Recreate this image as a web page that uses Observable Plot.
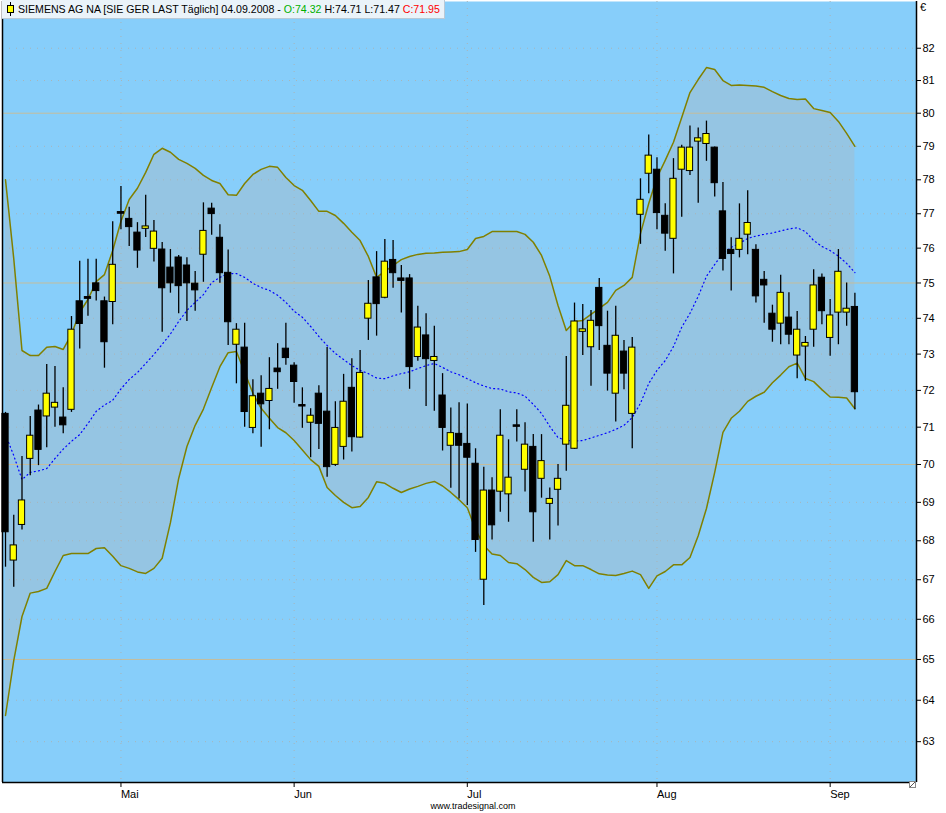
<!DOCTYPE html>
<html>
<head>
<meta charset="utf-8">
<script src="https://cdn.jsdelivr.net/npm/d3@7"></script>
<script src="https://cdn.jsdelivr.net/npm/@observablehq/plot@0.6"></script>
<style>
  html, body { margin: 0; padding: 0; background: #fff; }
  #wrap { position: relative; width: 946px; height: 813px; font-family: "Liberation Sans", Arial, sans-serif; color: #000; }
  #titel { position: absolute; left: 2px; top: 0; height: 18px; padding-right: 4px; background: #eaf3f9;
           border-bottom: 1px solid #b9c9d6; border-right: 1px solid #b9c9d6; font-size: 10.6px; line-height: 18px; white-space: nowrap; }
  #titel svg { vertical-align: -3px; margin: 0 3px 0 4px; }
  #euro { position: absolute; left: 920px; top: 1px; font-size: 11px; }
  #quelle { position: absolute; left: 0; width: 946px; top: 801px; text-align: center; font-size: 9px; }
  #ecke { position: absolute; left: 909px; top: 774px; }
</style>
</head>
<body>
<div id="wrap">
  <div id="chart"></div>
  <div id="titel"></div>
  <div id="euro">€</div>
  <div id="quelle">www.tradesignal.com</div>
  <div id="ecke"><svg width="7" height="7"><rect x="0.5" y="0.5" width="6" height="6" fill="#fff" stroke="#888"/><line x1="1" y1="6" x2="6" y2="1" stroke="#555"/></svg></div>
</div>
<script>
// Tageskerzen SIEMENS AG NA, 11.04.2008 - 04.09.2008 (Handelstage)
const eroeffnung = [71.36, 67.49, 68.41, 70.15, 71.45, 71.29, 71.53, 71.26, 71.47, 74.48,
  74.60, 74.99, 74.48, 74.46, 77.05, 76.85, 76.45, 76.56, 75.98, 75.96,
  75.44, 75.73, 75.50, 74.98, 75.81, 77.15, 76.30, 75.29, 73.26, 73.18,
  70.98, 71.91, 71.71, 72.60, 73.15, 72.68, 71.60, 71.12, 71.91, 71.42,
  69.99, 70.47, 72.07, 70.72, 73.99, 75.16, 74.58, 75.66, 75.13, 75.13,
  72.92, 73.52, 72.81, 71.86, 70.50, 70.82, 70.55, 70.02, 67.00, 69.31,
  69.28, 69.21, 71.05, 69.86, 70.47, 69.62, 68.96, 69.33, 70.53, 70.42,
  73.62, 73.19, 74.86, 73.23, 71.91, 73.07, 71.36, 76.97, 78.18, 78.30,
  76.94, 76.27, 78.30, 78.26, 79.14, 79.07, 78.96, 77.07, 75.95, 75.95,
  76.39, 75.95, 75.09, 74.13, 73.85, 74.02, 72.96, 73.21, 73.68, 75.15,
  73.45, 74.16, 74.16, 74.32];
const hoch = [71.40, 68.66, 70.21, 71.29, 71.60, 72.71, 72.66, 72.07, 74.05, 75.62,
  75.68, 75.68, 74.60, 76.77, 77.80, 77.19, 76.74, 77.54, 76.80, 76.16,
  75.96, 75.79, 75.72, 75.33, 77.32, 77.31, 76.68, 75.95, 73.85, 73.86,
  72.29, 72.40, 72.90, 73.29, 73.86, 72.76, 72.07, 71.50, 72.13, 73.18,
  71.69, 72.44, 72.87, 73.10, 75.07, 75.90, 76.25, 76.22, 75.50, 75.24,
  74.34, 74.13, 73.78, 72.46, 71.52, 71.66, 71.63, 70.42, 69.93, 69.65,
  71.47, 70.66, 71.47, 71.12, 70.80, 70.80, 69.38, 70.00, 72.93, 74.43,
  74.39, 74.22, 75.13, 74.20, 74.34, 73.38, 73.46, 78.03, 79.34, 78.66,
  77.29, 78.63, 79.03, 79.61, 79.55, 79.76, 78.98, 77.92, 76.30, 77.29,
  77.68, 76.10, 75.33, 74.37, 75.22, 74.72, 74.19, 73.49, 75.38, 75.26,
  74.53, 75.96, 75.00, 74.71];
const tief = [67.32, 66.81, 68.28, 69.70, 69.97, 70.45, 71.00, 70.82, 71.40, 73.14,
  74.06, 74.49, 72.61, 73.82, 76.53, 76.05, 75.42, 76.31, 75.60, 73.61,
  74.71, 74.13, 73.91, 74.20, 75.02, 76.37, 74.99, 73.24, 72.18, 71.00,
  70.82, 70.46, 70.93, 72.03, 72.69, 71.65, 70.97, 70.18, 70.40, 69.66,
  69.95, 70.12, 70.33, 70.70, 73.38, 73.50, 74.55, 74.85, 74.15, 72.03,
  72.80, 71.56, 71.43, 70.36, 69.37, 69.09, 68.92, 67.70, 66.35, 68.02,
  68.74, 68.48, 70.60, 69.27, 67.96, 69.11, 68.02, 68.38, 69.82, 70.40,
  72.96, 72.11, 73.10, 71.98, 71.14, 72.02, 70.42, 76.11, 77.59, 76.53,
  75.91, 75.26, 76.90, 78.13, 77.31, 78.55, 77.49, 75.34, 74.77, 75.72,
  75.81, 74.43, 73.86, 73.33, 73.26, 73.26, 72.32, 72.25, 73.19, 73.82,
  72.94, 73.26, 73.78, 71.47];
const schluss = [68.22, 67.88, 69.05, 70.77, 70.39, 71.91, 71.66, 71.05, 73.68, 73.84,
  74.55, 74.77, 73.33, 75.52, 77.00, 76.61, 75.93, 76.63, 76.48, 74.85,
  74.99, 74.91, 74.99, 74.79, 76.50, 76.99, 75.28, 73.89, 73.68, 71.41,
  71.84, 71.62, 72.04, 72.50, 72.89, 72.23, 71.56, 71.31, 71.09, 69.93,
  70.98, 71.69, 70.73, 72.48, 74.41, 74.40, 75.61, 75.28, 75.06, 72.64,
  73.74, 72.86, 72.92, 70.98, 70.84, 70.50, 70.18, 68.02, 69.31, 68.40,
  70.77, 69.65, 71.01, 70.53, 68.74, 70.09, 69.09, 69.62, 71.58, 73.91,
  73.69, 73.93, 73.78, 72.46, 73.51, 72.46, 73.18, 77.41, 78.72, 77.02,
  76.42, 78.03, 78.96, 78.96, 79.24, 79.37, 77.90, 75.69, 75.83, 76.27,
  76.73, 74.62, 74.93, 73.68, 74.72, 73.54, 73.68, 73.31, 74.93, 74.20,
  74.08, 75.32, 74.27, 71.95];

// Bollinger-Baender (oben / Mitte / unten)
const bbOben = [78.00, 75.70, 73.10, 72.96, 72.96, 73.19, 73.21, 73.13, 73.55, 74.17,
  74.53, 75.04, 75.24, 75.93, 76.78, 77.42, 77.75, 78.22, 78.76, 78.94,
  78.82, 78.61, 78.49, 78.34, 78.13, 77.98, 77.89, 77.56, 77.54, 77.89,
  78.16, 78.31, 78.40, 78.37, 78.07, 77.83, 77.69, 77.39, 77.07, 77.07,
  76.95, 76.72, 76.46, 76.22, 75.76, 75.16, 75.33, 75.50, 75.67, 75.76,
  75.82, 75.85, 75.86, 75.88, 75.89, 75.90, 75.96, 76.28, 76.34, 76.48,
  76.48, 76.48, 76.48, 76.40, 76.17, 75.79, 75.19, 74.36, 73.66, 73.91,
  73.94, 74.11, 74.28, 74.45, 74.79, 74.93, 75.16, 76.42, 77.30, 78.07,
  78.58, 79.12, 79.87, 80.63, 81.03, 81.40, 81.34, 81.00, 80.85, 80.86,
  80.85, 80.83, 80.79, 80.66, 80.54, 80.45, 80.42, 80.43, 80.14, 80.08,
  80.02, 79.75, 79.39, 79.00];
const bbMitte = [70.80, 70.24, 69.60, 69.79, 69.83, 69.89, 70.16, 70.41, 70.62, 70.80,
  71.10, 71.43, 71.60, 71.73, 72.04, 72.30, 72.49, 72.74, 72.99, 73.27,
  73.56, 73.91, 74.22, 74.45, 74.67, 75.01, 75.16, 75.27, 75.27, 75.16,
  74.99, 74.87, 74.79, 74.65, 74.45, 74.20, 74.03, 73.77, 73.49, 73.24,
  73.02, 72.85, 72.68, 72.55, 72.46, 72.34, 72.32, 72.40, 72.46, 72.51,
  72.60, 72.68, 72.74, 72.63, 72.51, 72.43, 72.32, 72.21, 72.12, 72.05,
  72.04, 71.96, 71.93, 71.84, 71.62, 71.37, 71.02, 70.72, 70.64, 70.63,
  70.64, 70.71, 70.78, 70.85, 70.94, 71.05, 71.26, 71.65, 72.19, 72.55,
  72.82, 73.21, 73.75, 74.14, 74.62, 75.19, 75.53, 75.85, 76.02, 76.14,
  76.28, 76.35, 76.40, 76.44, 76.50, 76.56, 76.59, 76.48, 76.22, 76.05,
  75.93, 75.77, 75.56, 75.30];
const bbUnten = [63.63, 64.97, 66.07, 66.66, 66.70, 66.78, 67.21, 67.62, 67.67, 67.67,
  67.67, 67.80, 67.82, 67.60, 67.36, 67.29, 67.20, 67.16, 67.29, 67.55,
  68.47, 69.63, 70.48, 71.05, 71.49, 72.08, 72.65, 73.04, 73.07, 72.50,
  71.92, 71.51, 71.24, 70.99, 70.85, 70.64, 70.39, 70.13, 69.95, 69.39,
  69.18, 69.00, 68.86, 68.89, 69.13, 69.54, 69.50, 69.37, 69.26, 69.35,
  69.42, 69.50, 69.55, 69.43, 69.26, 69.07, 68.86, 68.29, 67.88, 67.66,
  67.62, 67.44, 67.41, 67.26, 67.06, 66.93, 66.95, 67.13, 67.49, 67.36,
  67.36, 67.26, 67.15, 67.12, 67.11, 67.16, 67.22, 67.13, 66.78, 67.10,
  67.21, 67.38, 67.38, 67.57, 68.13, 68.84, 69.79, 70.86, 71.24, 71.43,
  71.70, 71.84, 71.95, 72.21, 72.42, 72.65, 72.75, 72.33, 72.24, 72.02,
  71.82, 71.81, 71.79, 71.50];

// Achsen: Monatsanfang als Kerzen-Index, Kursmarken
const monatIdx = [14, 35, 56, 79, 100];
const monatNamen = ["Mai", "Jun", "Jul", "Aug", "Sep"];
const kursTicks = d3.range(63, 83);
const kursFest = [65, 70, 75, 80];

const tage = schluss.map((c, i) => ({
  i, o: eroeffnung[i], h: hoch[i], l: tief[i], c,
  ob: bbOben[i], mi: bbMitte[i], un: bbUnten[i]
}));

const xDom = [-0.364, 110.47];
const yDom = [62.03, 83.47];

const chart = Plot.plot({
  width: 946,
  height: 813,
  marginLeft: 2,
  marginRight: 30,
  marginTop: 1,
  marginBottom: 31,
  style: {background: "transparent", fontFamily: "Liberation Sans, Arial, sans-serif", fontSize: "11px", color: "#000"},
  x: {type: "linear", domain: xDom},
  y: {type: "log", domain: yDom},
  marks: [
    Plot.frame({fill: "#87cefa", stroke: null}),
    Plot.areaY(tage, {x: "i", y1: "un", y2: "ob", fill: "#95c5e3"}),
    Plot.ruleY(kursTicks.filter(d => !kursFest.includes(d)), {stroke: "#a9b4b8", strokeDasharray: "1,6"}),
    Plot.ruleY(kursFest, {stroke: "#c4bd9c"}),
    Plot.ruleX(monatIdx, {stroke: "#a9b4b8", strokeDasharray: "1,6"}),
    Plot.line(tage, {x: "i", y: "ob", stroke: "#808000"}),
    Plot.line(tage, {x: "i", y: "un", stroke: "#808000"}),
    Plot.line(tage, {x: "i", y: "mi", stroke: "#0000ff", strokeWidth: 1.2, strokeDasharray: "1,3.2"}),
    Plot.ruleX(tage, {x: "i", y1: "l", y2: "h", stroke: "#000", strokeWidth: 1.3}),
    Plot.rect(tage, {
      x1: d => d.i - 0.38,
      x2: d => d.i + 0.38,
      y1: "o",
      y2: "c",
      fill: d => d.c > d.o ? "#ffff00" : "#000000",
      stroke: "#000",
      strokeWidth: 1
    }),
    Plot.axisY({anchor: "right", ticks: kursTicks, tickFormat: d => String(d), tickSize: 4, tickPadding: 2, fontSize: 11, label: null}),
    Plot.axisX({ticks: monatIdx, tickFormat: d => monatNamen[monatIdx.indexOf(d)], tickSize: 5, tickPadding: 3, textAnchor: "start", fontSize: 11, label: null}),
    Plot.ruleX(xDom, {stroke: "#000", strokeWidth: 1.5}),
    Plot.ruleY([yDom[0]], {stroke: "#000", strokeWidth: 1.5})
  ]
});
d3.select("#chart").append(() => chart);

// Kopfzeile mit letzten Kurswerten
const n = schluss.length - 1;
d3.select("#titel").html(
  `<svg width="9" height="14"><line x1="4.5" y1="0" x2="4.5" y2="14" stroke="#000"/><rect x="1.5" y="3.5" width="6" height="7" fill="#ffff00" stroke="#000"/></svg>` +
  `SIEMENS AG NA [SIE GER LAST Täglich] 04.09.2008 - ` +
  `<span style="color:#00b000">O:${eroeffnung[n].toFixed(2)}</span> H:${hoch[n].toFixed(2)} L:${tief[n].toFixed(2)} ` +
  `<span style="color:#ff0000">C:${schluss[n].toFixed(2)}</span>`
);
</script>
</body>
</html>
